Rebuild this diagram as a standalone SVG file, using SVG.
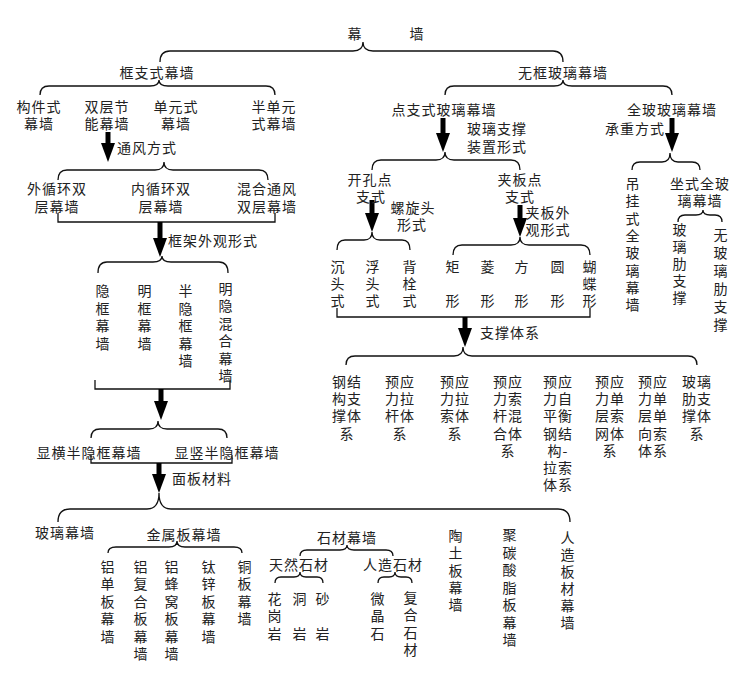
<svg xmlns="http://www.w3.org/2000/svg" width="755" height="673" viewBox="0 0 755 673">
<style>
text{font-family:"Noto Sans CJK SC","Noto Sans CJK TC",sans-serif;font-size:14px;letter-spacing:1px;fill:#222;text-anchor:middle}
.s{text-anchor:start}
.br{fill:none;stroke:#111;stroke-width:1.3}
.ar{stroke:#000;stroke-width:5;fill:none;marker-end:url(#h)}
</style>
<defs>
<marker id="h" markerUnits="userSpaceOnUse" viewBox="0 0 19 14" refX="1" refY="7" markerWidth="19" markerHeight="14" orient="auto"><path d="M0,0L19,7L0,14z" fill="#000"/></marker>
</defs>
<rect width="755" height="673" fill="#fff"/>
<g id="connectors">
<path class="br" d="M160,62Q160,51 170,51L353,51Q363,51 363,42Q363,51 373,51L553,51Q563,51 563,62"/>
<path class="br" d="M40,95Q40,86 49,86L150,86Q159,86 159,80Q159,86 168,86L266,86Q275,86 275,95"/>
<path class="br" d="M445,95Q445,86 454,86L554,86Q563,86 563,80Q563,86 572,86L663,86Q672,86 672,95"/>
<path class="br" d="M58,180Q58,170 67,170L155,170Q164,170 164,162Q164,170 173,170L259,170Q268,170 268,180"/>
<path class="br" d="M98,273Q98,262 107,262L153,262Q162,262 162,256Q162,262 171,262L219,262Q228,262 228,273"/>
<path class="br" d="M91,438Q91,429 100,429L149,429Q158,429 158,421Q158,429 167,429L218,429Q227,429 227,438"/>
<path class="br" d="M58,522Q58,509 70,509L147,509Q159,509 159,493Q159,509 171,509L558,509Q570,509 570,522"/>
<path class="br" d="M108,553Q108,547 116,547L169,547Q177,547 177,541Q177,547 185,547L234,547Q242,547 242,553"/>
<path class="br" d="M300,556Q300,550 307,550L340,550Q347,550 347,545Q347,550 354,550L386,550Q393,550 393,556"/>
<path class="br" d="M275,583Q275,577 281,577L294,577Q300,577 300,572Q300,577 306,577L317,577Q323,577 323,583"/>
<path class="br" d="M378,583Q378,577 384,577L389,577Q395,577 395,572Q395,577 401,577L406,577Q412,577 412,583"/>
<path class="br" d="M372,170Q372,160 381,160L436,160Q445,160 445,152Q445,160 454,160L511,160Q520,160 520,170"/>
<path class="br" d="M632,170Q632,162 640,162L662,162Q670,162 670,153Q670,162 678,162L692,162Q700,162 700,170"/>
<path class="br" d="M337,250Q337,240 345,240L364,240Q372,240 372,232Q372,240 380,240L402,240Q410,240 410,250"/>
<path class="br" d="M453,255Q453,245 462,245L511,245Q520,245 520,237Q520,245 529,245L581,245Q590,245 590,255"/>
<path class="br" d="M678,222Q678,215 685,215L696,215Q703,215 703,210Q703,215 710,215L715,215Q722,215 722,222"/>
<path class="br" d="M346,365Q346,356 355,356L454,356Q463,356 463,347Q463,356 472,356L688,356Q697,356 697,365"/>
<path class="br" d="M58,213L58,222L275,222L275,213"/>
<path class="br" d="M95,380L95,389L230,389L230,380"/>
<path class="br" d="M91,455L91,463L232,463L232,455"/>
<path class="br" d="M337,308L337,317L590,317L590,308"/>
<path class="ar" d="M108,132L108,144"/>
<path class="ar" d="M160,222L160,239"/>
<path class="ar" d="M161,389L161,402"/>
<path class="ar" d="M159,463L159,475"/>
<path class="ar" d="M443,118L443,134"/>
<path class="ar" d="M672,118L672,134"/>
<path class="ar" d="M372,200L372,214"/>
<path class="ar" d="M520,205L520,219"/>
<path class="ar" d="M465,317L465,329"/>
</g>
<g id="n-root"><text><tspan x="355" y="39">幕</tspan><tspan x="417" y="39">墙</tspan></text></g>
<g id="n-kzs"><text x="157" y="78">框支式幕墙</text></g>
<g id="n-wk"><text x="563" y="78">无框玻璃幕墙</text></g>
<g id="n-gjs"><text><tspan x="39" y="112">构件式</tspan><tspan x="39" y="129">幕墙</tspan></text></g>
<g id="n-scj"><text><tspan x="107" y="112">双层节</tspan><tspan x="107" y="129">能幕墙</tspan></text></g>
<g id="n-dys"><text><tspan x="176" y="112">单元式</tspan><tspan x="176" y="129">幕墙</tspan></text></g>
<g id="n-bdy"><text><tspan x="274" y="112">半单元</tspan><tspan x="274" y="129">式幕墙</tspan></text></g>
<g id="l-tf"><text class="s" x="117" y="153">通风方式</text></g>
<g id="n-wxh"><text><tspan x="57" y="194">外循环双</tspan><tspan x="57" y="212">层幕墙</tspan></text></g>
<g id="n-nxh"><text><tspan x="161" y="194">内循环双</tspan><tspan x="161" y="212">层幕墙</tspan></text></g>
<g id="n-hh"><text><tspan x="267" y="194">混合通风</tspan><tspan x="267" y="212">双层幕墙</tspan></text></g>
<g id="l-kj"><text class="s" x="168" y="246">框架外观形式</text></g>
<g id="n-yk"><text><tspan x="103" y="296">隐</tspan><tspan x="103" dy="17.5">框</tspan><tspan x="103" dy="17.5">幕</tspan><tspan x="103" dy="17.5">墙</tspan></text></g>
<g id="n-mk"><text><tspan x="145" y="296">明</tspan><tspan x="145" dy="17.5">框</tspan><tspan x="145" dy="17.5">幕</tspan><tspan x="145" dy="17.5">墙</tspan></text></g>
<g id="n-byk"><text><tspan x="186" y="296">半</tspan><tspan x="186" dy="17.5">隐</tspan><tspan x="186" dy="17.5">框</tspan><tspan x="186" dy="17.5">幕</tspan><tspan x="186" dy="17.5">墙</tspan></text></g>
<g id="n-myhh"><text><tspan x="226" y="294">明</tspan><tspan x="226" dy="17.4">隐</tspan><tspan x="226" dy="17.4">混</tspan><tspan x="226" dy="17.4">合</tspan><tspan x="226" dy="17.4">幕</tspan><tspan x="226" dy="17.4">墙</tspan></text></g>
<g id="n-xh"><text x="89" y="458">显横半隐框幕墙</text></g>
<g id="n-xs"><text x="227" y="458">显竖半隐框幕墙</text></g>
<g id="l-mb"><text class="s" x="172" y="484">面板材料</text></g>
<g id="n-bl"><text x="65" y="538">玻璃幕墙</text></g>
<g id="n-js"><text x="184" y="540">金属板幕墙</text></g>
<g id="n-sc"><text x="347" y="543">石材幕墙</text></g>
<g id="n-tr"><text x="299" y="570">天然石材</text></g>
<g id="n-rz"><text x="393" y="570">人造石材</text></g>
<g id="n-ldb"><text><tspan x="108" y="572">铝</tspan><tspan x="108" dy="17.4">单</tspan><tspan x="108" dy="17.4">板</tspan><tspan x="108" dy="17.4">幕</tspan><tspan x="108" dy="17.4">墙</tspan></text></g>
<g id="n-lfh"><text><tspan x="141" y="572">铝</tspan><tspan x="141" dy="17.4">复</tspan><tspan x="141" dy="17.4">合</tspan><tspan x="141" dy="17.4">板</tspan><tspan x="141" dy="17.4">幕</tspan><tspan x="141" dy="17.4">墙</tspan></text></g>
<g id="n-lfw"><text><tspan x="172" y="572">铝</tspan><tspan x="172" dy="17.4">蜂</tspan><tspan x="172" dy="17.4">窝</tspan><tspan x="172" dy="17.4">板</tspan><tspan x="172" dy="17.4">幕</tspan><tspan x="172" dy="17.4">墙</tspan></text></g>
<g id="n-tx"><text><tspan x="209" y="572">钛</tspan><tspan x="209" dy="17.4">锌</tspan><tspan x="209" dy="17.4">板</tspan><tspan x="209" dy="17.4">幕</tspan><tspan x="209" dy="17.4">墙</tspan></text></g>
<g id="n-tb"><text><tspan x="245" y="572">铜</tspan><tspan x="245" dy="17.4">板</tspan><tspan x="245" dy="17.4">幕</tspan><tspan x="245" dy="17.4">墙</tspan></text></g>
<g id="n-hgy"><text><tspan x="275" y="604">花</tspan><tspan x="275" y="621">岗</tspan><tspan x="275" y="639">岩</tspan></text></g>
<g id="n-dy"><text><tspan x="300" y="604">洞</tspan><tspan x="300" y="639">岩</tspan></text></g>
<g id="n-sy"><text><tspan x="323" y="604">砂</tspan><tspan x="323" y="639">岩</tspan></text></g>
<g id="n-wjs"><text><tspan x="378" y="604">微</tspan><tspan x="378" y="621">晶</tspan><tspan x="378" y="639">石</tspan></text></g>
<g id="n-fhsc"><text><tspan x="411" y="603">复</tspan><tspan x="411" y="620">合</tspan><tspan x="411" y="638">石</tspan><tspan x="411" y="655">材</tspan></text></g>
<g id="n-tt"><text><tspan x="456" y="541">陶</tspan><tspan x="456" dy="17.25">土</tspan><tspan x="456" dy="17.25">板</tspan><tspan x="456" dy="17.25">幕</tspan><tspan x="456" dy="17.25">墙</tspan></text></g>
<g id="n-jtsz"><text><tspan x="510" y="540">聚</tspan><tspan x="510" dy="17.5">碳</tspan><tspan x="510" dy="17.5">酸</tspan><tspan x="510" dy="17.5">脂</tspan><tspan x="510" dy="17.5">板</tspan><tspan x="510" dy="17.5">幕</tspan><tspan x="510" dy="17.5">墙</tspan></text></g>
<g id="n-rzbc"><text><tspan x="568" y="543">人</tspan><tspan x="568" dy="17">造</tspan><tspan x="568" dy="17">板</tspan><tspan x="568" dy="17">材</tspan><tspan x="568" dy="17">幕</tspan><tspan x="568" dy="17">墙</tspan></text></g>
<g id="n-dzs"><text x="444" y="115">点支式玻璃幕墙</text></g>
<g id="n-qb"><text x="672" y="115">全玻玻璃幕墙</text></g>
<g id="l-blzc"><text><tspan x="497" y="134">玻璃支撑</tspan><tspan x="497" y="152">装置形式</tspan></text></g>
<g id="l-czfs"><text x="635" y="134">承重方式</text></g>
<g id="n-kk"><text><tspan x="370" y="185">开孔点</tspan><tspan x="371" y="202">支式</tspan></text></g>
<g id="n-jb"><text><tspan x="520" y="185">夹板点</tspan><tspan x="520" y="202">支式</tspan></text></g>
<g id="l-lxt"><text><tspan x="413" y="213">螺旋头</tspan><tspan x="412" y="230">形式</tspan></text></g>
<g id="l-jbw"><text><tspan x="548" y="218">夹板外</tspan><tspan x="548" y="235">观形式</tspan></text></g>
<g id="n-dg"><text><tspan x="633" y="189">吊</tspan><tspan x="633" dy="17.3">挂</tspan><tspan x="633" dy="17.3">式</tspan><tspan x="633" dy="17.3">全</tspan><tspan x="633" dy="17.3">玻</tspan><tspan x="633" dy="17.3">璃</tspan><tspan x="633" dy="17.3">幕</tspan><tspan x="633" dy="17.3">墙</tspan></text></g>
<g id="n-zs"><text><tspan x="700" y="189">坐式全玻</tspan><tspan x="700" y="206">璃幕墙</tspan></text></g>
<g id="n-blle"><text><tspan x="680" y="235">玻</tspan><tspan x="680" dy="17">璃</tspan><tspan x="680" dy="17">肋</tspan><tspan x="680" dy="17">支</tspan><tspan x="680" dy="17">撑</tspan></text></g>
<g id="n-wbll"><text><tspan x="721" y="240">无</tspan><tspan x="721" dy="18">玻</tspan><tspan x="721" dy="18">璃</tspan><tspan x="721" dy="18">肋</tspan><tspan x="721" dy="18">支</tspan><tspan x="721" dy="18">撑</tspan></text></g>
<g id="n-ct"><text><tspan x="338" y="272">沉</tspan><tspan x="338" y="289">头</tspan><tspan x="338" y="306">式</tspan></text></g>
<g id="n-ft"><text><tspan x="373" y="272">浮</tspan><tspan x="373" y="289">头</tspan><tspan x="373" y="306">式</tspan></text></g>
<g id="n-bs"><text><tspan x="410" y="272">背</tspan><tspan x="410" y="289">栓</tspan><tspan x="410" y="306">式</tspan></text></g>
<g id="n-jx"><text><tspan x="453" y="272">矩</tspan><tspan x="453" y="306">形</tspan></text></g>
<g id="n-lx"><text><tspan x="488" y="272">菱</tspan><tspan x="488" y="306">形</tspan></text></g>
<g id="n-fx"><text><tspan x="522" y="272">方</tspan><tspan x="522" y="306">形</tspan></text></g>
<g id="n-yx"><text><tspan x="558" y="272">圆</tspan><tspan x="558" y="306">形</tspan></text></g>
<g id="n-hdx"><text><tspan x="590" y="272">蝴</tspan><tspan x="590" y="289">蝶</tspan><tspan x="590" y="306">形</tspan></text></g>
<g id="l-zctx"><text class="s" x="480" y="338">支撑体系</text></g>
<g id="n-s1"><text><tspan x="347" y="387">钢结</tspan><tspan x="347" dy="17.2">构支</tspan><tspan x="347" dy="17.2">撑体</tspan><tspan x="347" dy="17.2">系</tspan></text></g>
<g id="n-s2"><text><tspan x="400" y="387">预应</tspan><tspan x="400" dy="17.2">力拉</tspan><tspan x="400" dy="17.2">杆体</tspan><tspan x="400" dy="17.2">系</tspan></text></g>
<g id="n-s3"><text><tspan x="455" y="387">预应</tspan><tspan x="455" dy="17.2">力拉</tspan><tspan x="455" dy="17.2">索体</tspan><tspan x="455" dy="17.2">系</tspan></text></g>
<g id="n-s4"><text><tspan x="508" y="387">预应</tspan><tspan x="508" dy="17.2">力索</tspan><tspan x="508" dy="17.2">杆混</tspan><tspan x="508" dy="17.2">合体</tspan><tspan x="508" dy="17.2">系</tspan></text></g>
<g id="n-s5"><text><tspan x="558" y="387">预应</tspan><tspan x="558" dy="17.2">力自</tspan><tspan x="558" dy="17.2">平衡</tspan><tspan x="558" dy="17.2">钢结</tspan><tspan x="558" dy="17.2">构-</tspan><tspan x="558" dy="17.2">拉索</tspan><tspan x="558" dy="17.2">体系</tspan></text></g>
<g id="n-s6"><text><tspan x="610" y="387">预应</tspan><tspan x="610" dy="17.2">力单</tspan><tspan x="610" dy="17.2">层索</tspan><tspan x="610" dy="17.2">网体</tspan><tspan x="610" dy="17.2">系</tspan></text></g>
<g id="n-s7"><text><tspan x="653" y="387">预应</tspan><tspan x="653" dy="17.2">力单</tspan><tspan x="653" dy="17.2">层单</tspan><tspan x="653" dy="17.2">向索</tspan><tspan x="653" dy="17.2">体系</tspan></text></g>
<g id="n-s8"><text><tspan x="697" y="387">玻璃</tspan><tspan x="697" dy="17.2">肋支</tspan><tspan x="697" dy="17.2">撑体</tspan><tspan x="697" dy="17.2">系</tspan></text></g>
</svg>
